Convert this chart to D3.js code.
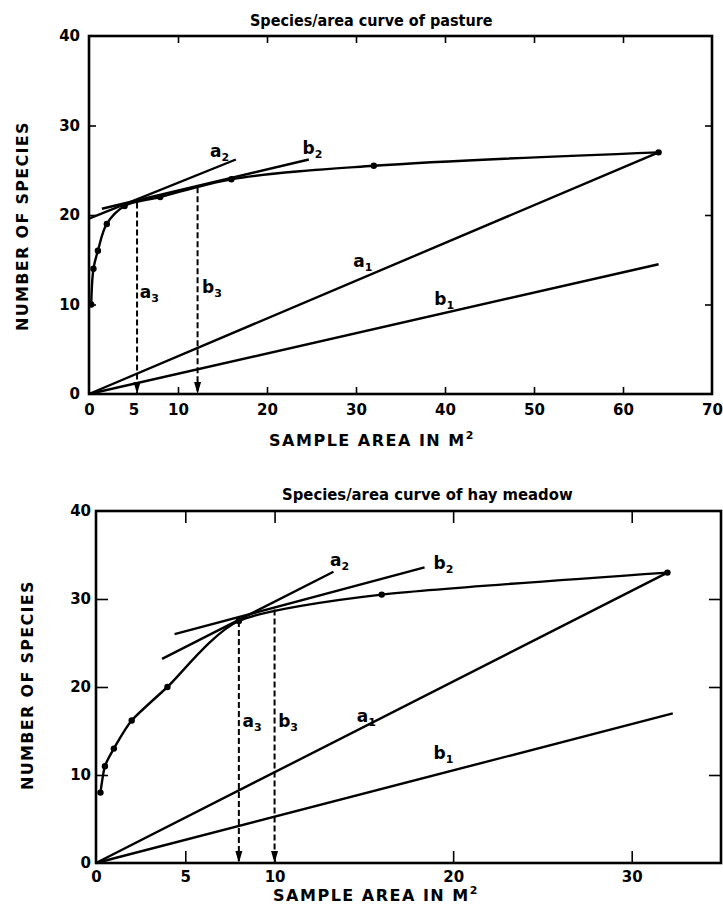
<!DOCTYPE html>
<html>
<head>
<meta charset="utf-8">
<script src="https://cdn.jsdelivr.net/npm/d3@7"></script>
<style>
  body { margin: 0; background: #fff; }
  svg { display: block; }
</style>
</head>
<body>
<div id="vizcont"></div>
<script>
// ---- data ----
// pasture (top figure)
var pastureArea    = [0.25, 0.5, 1, 2, 4, 8, 16, 32, 64];
var pastureSpecies = [10, 14, 16, 19, 21, 22, 24, 25.5, 27];
var pastureA1 = [[0, 0], [64, 27]];          // chord to last point
var pastureB1 = [[0, 0], [64, 14.5]];        // half-slope chord
var pastureA2 = [[0, 19.6], [16.5, 26.2]];   // tangent parallel to a1
var pastureB2 = [[1.45, 20.7], [24.7, 26.2]];// tangent parallel to b1
var pastureA3 = [[5.4, 21.4], [5.4, 0]];
var pastureB3 = [[12.2, 23.1], [12.2, 0]];

// hay meadow (bottom figure)
var meadowArea    = [0.25, 0.5, 1, 2, 4, 8, 16, 32];
var meadowSpecies = [8, 11, 13, 16.2, 20, 27.5, 30.5, 33];
var meadowA1 = [[0, 0], [32, 33]];
var meadowB1 = [[0, 0], [32.3, 17]];
var meadowA2 = [[3.7, 23.2], [13.3, 33.1]];
var meadowB2 = [[4.4, 26], [18.4, 33.6]];
var meadowA3 = [[8, 27.5], [8, 0]];
var meadowB3 = [[10, 28.8], [10, 0]];

// tick labels
var yTickLabels        = [0, 10, 20, 30, 40];
var pastureXTickLabels = [0, 5, 10, 20, 30, 40, 50, 60, 70];
var meadowXTickLabels  = [0, 5, 10, 20, 30];

var W = 723, H = 919;
var numFont = "'DejaVu Sans', sans-serif";

var svg = d3.select("#vizcont")
            .append("svg")
            .attr("width", W)
            .attr("height", H);

svg.append("rect").attr("width", W).attr("height", H).attr("fill", "#fff");

// arrow head for the dashed drop lines
svg.append("defs")
   .append("marker")
   .attr("id", "arrow")
   .attr("markerUnits", "userSpaceOnUse")
   .attr("markerWidth", 14)
   .attr("markerHeight", 10)
   .attr("viewBox", "0 -5 14 10")
   .attr("refX", 12)
   .attr("refY", 0)
   .attr("orient", "auto")
   .append("path")
   .attr("d", "M0,-3.5 L12,0 L0,3.5 Z")
   .attr("fill", "#000");

function drawPanel(o) {
    var x = d3.scaleLinear().domain([0, o.xMax]).range([o.left, o.right]);
    var y = d3.scaleLinear().domain([0, 40]).range([o.bottom, o.top]);
    var g = svg.append("g");

    // title
    g.append("text")
     .attr("x", o.titleX)
     .attr("y", o.titleY)
     .style("font", "bold " + o.titleSize + "px 'DejaVu Sans Condensed', 'DejaVu Sans', sans-serif")
     .text(o.title);

    // axes (ticks only, frame drawn separately)
    var ax = g.append("g").attr("transform", "translate(0," + o.bottom + ")")
              .call(d3.axisBottom(x).tickValues(o.xLabels).tickSize(-o.tick).tickPadding(o.xPad).tickFormat(d3.format("d")));
    ax.selectAll(".tick line").filter(function(d) { return o.xTicks.indexOf(d) < 0; }).remove();

    g.append("g").attr("transform", "translate(0," + o.top + ")")
     .call(d3.axisTop(x).tickValues(o.xTicks).tickSize(-o.tick).tickFormat(""));

    var ay = g.append("g").attr("transform", "translate(" + o.left + ",0)")
              .call(d3.axisLeft(y).tickValues(yTickLabels).tickSize(-o.tick).tickPadding(o.yPad));
    ay.selectAll(".tick line").filter(function(d) { return d === 0 || d === 40; }).remove();

    g.append("g").attr("transform", "translate(" + o.right + ",0)")
     .call(d3.axisRight(y).tickValues([10, 20, 30]).tickSize(-o.tick).tickFormat(""));

    g.selectAll(".domain").remove();
    g.selectAll(".tick line").attr("stroke", "#000").attr("stroke-width", 1.6);
    g.selectAll(".tick text")
     .attr("fill", "#000")
     .style("font", "bold 15px " + numFont);

    // frame
    g.append("rect")
     .attr("x", o.left).attr("y", o.top)
     .attr("width", o.right - o.left).attr("height", o.bottom - o.top)
     .attr("fill", "none").attr("stroke", "#000").attr("stroke-width", 2.6);

    // axis titles
    var xl = g.append("text")
     .attr("x", o.xLabelX).attr("y", o.xLabelY)
     .attr("text-anchor", "middle")
     .style("font", "bold 16px " + numFont)
     .style("letter-spacing", "1.5px");
    xl.append("tspan").text("SAMPLE AREA IN M");
    xl.append("tspan").attr("dy", -7).style("font-size", "11px").text("2");

    g.append("text")
     .attr("transform", "translate(" + o.yLabelX + "," + o.yLabelY + ") rotate(-90)")
     .attr("text-anchor", "middle")
     .style("font", "bold 16px " + numFont)
     .style("letter-spacing", "1.3px")
     .text("NUMBER OF SPECIES");

    var line = d3.line().x(function(d) { return x(d[0]); }).y(function(d) { return y(d[1]); });

    // straight construction lines
    [o.a1, o.b1, o.a2, o.b2].forEach(function(seg) {
        g.append("path")
         .attr("d", line(seg))
         .attr("fill", "none").attr("stroke", "#000").attr("stroke-width", 2.4);
    });

    // dashed drop lines with arrow
    [o.a3, o.b3].forEach(function(seg) {
        g.append("path")
         .attr("d", line(seg))
         .attr("fill", "none").attr("stroke", "#000").attr("stroke-width", 2)
         .attr("stroke-dasharray", "6,3")
         .attr("marker-end", "url(#arrow)");
    });

    // species/area curve
    var pts = o.area.map(function(a, i) { return [a, o.species[i]]; });
    g.append("path")
     .datum(pts)
     .attr("d", d3.line().curve(o.curve)
                  .x(function(d) { return x(d[0]); })
                  .y(function(d) { return y(d[1]); }))
     .attr("fill", "none").attr("stroke", "#000").attr("stroke-width", 2.4);

    g.selectAll(".pt")
     .data(pts)
     .enter()
     .append("circle")
     .attr("class", "pt")
     .attr("cx", function(d) { return x(d[0]); })
     .attr("cy", function(d) { return y(d[1]); })
     .attr("r", 3.2)
     .attr("fill", "#000");

    // a/b labels
    o.labels.forEach(function(l) {
        var t = g.append("text")
                 .attr("x", x(l.x)).attr("y", y(l.y))
                 .style("font", "bold 17px " + numFont);
        t.append("tspan").text(l.letter);
        t.append("tspan").attr("dy", 4).style("font-size", "11px").text(l.sub);
    });
}

drawPanel({
    title: "Species/area curve of pasture",
    titleX: 250, titleY: 26, titleSize: 16,
    left: 89, right: 712, top: 36, bottom: 394,
    xMax: 70, tick: 7, xPad: 10, yPad: 9,
    xLabels: pastureXTickLabels,
    xTicks: [10, 20, 30, 40, 50, 60],
    xLabelX: 372, xLabelY: 446,
    yLabelX: 28, yLabelY: 226,
    curve: d3.curveCatmullRom.alpha(0.5),
    area: pastureArea, species: pastureSpecies,
    a1: pastureA1, b1: pastureB1, a2: pastureA2, b2: pastureB2, a3: pastureA3, b3: pastureB3,
    labels: [
        {letter: "a", sub: "2", x: 13.6, y: 26.5},
        {letter: "b", sub: "2", x: 24.0, y: 26.8},
        {letter: "a", sub: "3", x: 5.7,  y: 10.7},
        {letter: "b", sub: "3", x: 12.7, y: 11.3},
        {letter: "a", sub: "1", x: 29.7, y: 14.2},
        {letter: "b", sub: "1", x: 38.8, y: 9.9}
    ]
});

drawPanel({
    title: "Species/area curve of hay meadow",
    titleX: 282, titleY: 500, titleSize: 16.5,
    left: 96, right: 721, top: 511, bottom: 863,
    xMax: 35, tick: 12, xPad: 8, yPad: 5,
    xLabels: meadowXTickLabels,
    xTicks: [5, 10, 20, 30],
    xLabelX: 376, xLabelY: 901,
    yLabelX: 33, yLabelY: 685,
    curve: d3.curveCardinal.tension(0.3),
    area: meadowArea, species: meadowSpecies,
    a1: meadowA1, b1: meadowB1, a2: meadowA2, b2: meadowB2, a3: meadowA3, b3: meadowB3,
    labels: [
        {letter: "a", sub: "2", x: 13.1, y: 33.7},
        {letter: "b", sub: "2", x: 18.9, y: 33.4},
        {letter: "a", sub: "3", x: 8.2,  y: 15.5},
        {letter: "b", sub: "3", x: 10.2, y: 15.5},
        {letter: "a", sub: "1", x: 14.6, y: 16.0},
        {letter: "b", sub: "1", x: 18.9, y: 11.8}
    ]
});
</script>
</body>
</html>
